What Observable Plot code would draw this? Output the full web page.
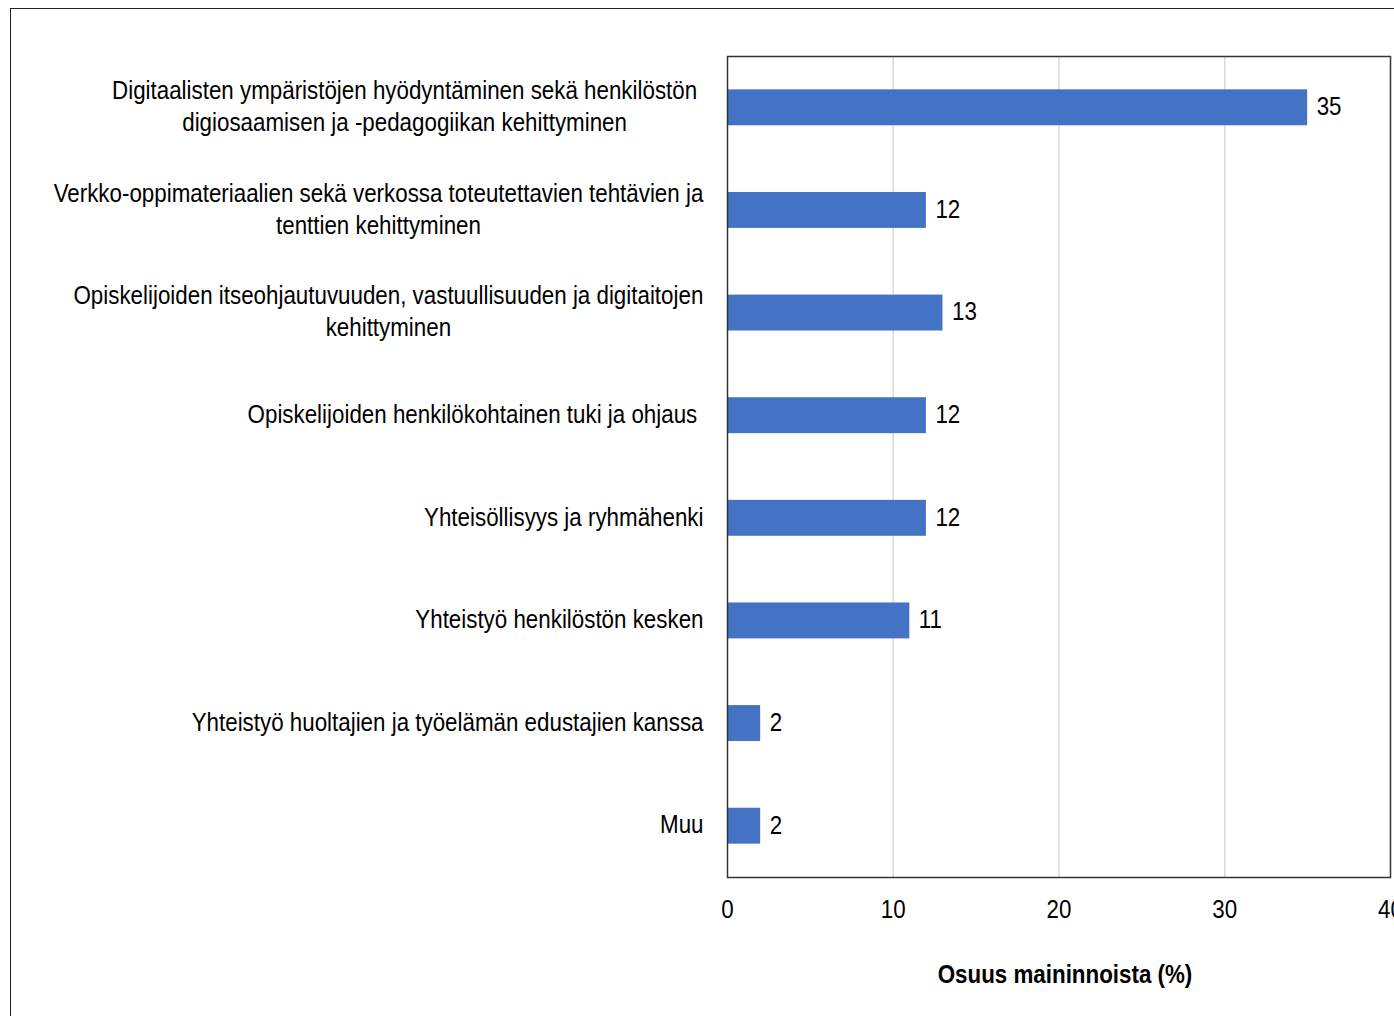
<!DOCTYPE html>
<html>
<head>
<meta charset="utf-8">
<script src="https://cdn.jsdelivr.net/npm/d3@7"></script>
<script src="https://cdn.jsdelivr.net/npm/@observablehq/plot@0.6"></script>
<style>
  html, body { margin: 0; padding: 0; background: #fff; overflow: hidden; width: 1394px; height: 1016px; }
  #outer { position: absolute; left: 10px; top: 8px; width: 1500px; height: 1100px; border: 1.5px solid #222; box-sizing: border-box; }
  #chart { position: absolute; left: 0; top: 0; }
  #chart svg { max-width: none; }
</style>
</head>
<body>
<div id="outer"></div>
<div id="chart"></div>
<script>
const categories = [
  "Digitaalisten ympäristöjen hyödyntäminen sekä henkilöstön \ndigiosaamisen ja -pedagogiikan kehittyminen ",
  "Verkko-oppimateriaalien sekä verkossa toteutettavien tehtävien ja\ntenttien kehittyminen",
  "Opiskelijoiden itseohjautuvuuden, vastuullisuuden ja digitaitojen\nkehittyminen",
  "Opiskelijoiden henkilökohtainen tuki ja ohjaus ",
  "Yhteisöllisyys ja ryhmähenki",
  "Yhteistyö henkilöstön kesken",
  "Yhteistyö huoltajien ja työelämän edustajien kanssa",
  "Muu"
];
const values = [35, 12, 13, 12, 12, 11, 2, 2];
const xTicks = [0, 10, 20, 30, 40];
const gridTicks = [10, 20, 30];
const xLabel = "Osuus maininnoista (%)";

const data = categories.map((c, i) => ({category: c, value: values[i]}));

const fontFamily = '"Liberation Sans", Arial, sans-serif';
const narrow = 0.86; // horizontal condensing to mimic a narrow typeface

const chart = Plot.plot({
  width: 1394,
  height: 1016,
  marginLeft: 727,
  marginRight: 4,
  marginTop: 56,
  marginBottom: 139,
  style: {fontFamily, fontSize: "26px", color: "#000", background: "transparent"},
  x: {domain: [0, 40]},
  y: {domain: categories, paddingInner: 0.65, paddingOuter: 0.325, round: false},
  marks: [
    Plot.gridX(gridTicks, {stroke: "#d9d9d9", strokeOpacity: 1, strokeWidth: 1.5}),
    Plot.barX(data, {x: "value", y: "category", fill: "#4472C4"}),
    Plot.text(data, {x: "value", y: "category", text: d => String(d.value), textAnchor: "start", dx: 9, dy: -1, fontSize: 26, fill: "#000"}),
    Plot.axisY({tickSize: 0, tickPadding: 24, label: null, dy: -3, fontSize: 26, lineHeight: 1.23, fill: "#000"}),
    Plot.axisX(xTicks, {tickSize: 0, tickPadding: 22, fontSize: 26, fill: "#000", label: null}),
    Plot.axisX({ticks: [], tickSize: 0, label: xLabel, labelArrow: "none", labelAnchor: "center", labelOffset: 105, fontSize: 26, fontWeight: "bold", fill: "#000"}),
    Plot.frame({stroke: "#333", strokeWidth: 1.5})
  ]
});
document.getElementById("chart").appendChild(chart);

// center multi-line y labels within their block (lines centered, block right-aligned)
chart.querySelectorAll('[aria-label="y-axis tick label"] text').forEach(t => {
  const spans = t.querySelectorAll("tspan");
  if (spans.length > 1) {
    let w = 0;
    spans.forEach(s => { w = Math.max(w, s.getComputedTextLength()); });
    t.setAttribute("text-anchor", "middle");
    spans.forEach(s => s.setAttribute("x", -w / 2));
  }
});

// axis title: no arrow, nudged slightly right of the frame centre as in the original
chart.querySelectorAll('[aria-label="x-axis label"] text').forEach(t => {
  if (t.textContent.includes("→")) t.textContent = t.textContent.replace(/\s*→\s*/, "");
});
chart.querySelectorAll('[aria-label="x-axis label"]').forEach(g => {
  const tr = g.getAttribute("transform") || "";
  g.setAttribute("transform", `${tr} translate(6,0)`);
});

// condense all texts horizontally around their anchor point
const NS = "http://www.w3.org/2000/svg";
Array.from(chart.querySelectorAll("text")).forEach(t => {
  const tl = t.transform && t.transform.baseVal;
  const m = tl && tl.numberOfItems ? tl.consolidate().matrix : {a: 1, b: 0, c: 0, d: 1, e: 0, f: 0};
  const x = t.x && t.x.baseVal && t.x.baseVal.numberOfItems ? t.x.baseVal.getItem(0).value : 0;
  const y = t.y && t.y.baseVal && t.y.baseVal.numberOfItems ? t.y.baseVal.getItem(0).value : 0;
  const ax = m.a * x + m.c * y + m.e;
  const ay = m.b * x + m.d * y + m.f;
  const g = document.createElementNS(NS, "g");
  g.setAttribute("transform", `translate(${ax},${ay}) scale(${narrow},1) translate(${-ax},${-ay})`);
  t.parentNode.insertBefore(g, t);
  g.appendChild(t);
});
</script>
</body>
</html>
